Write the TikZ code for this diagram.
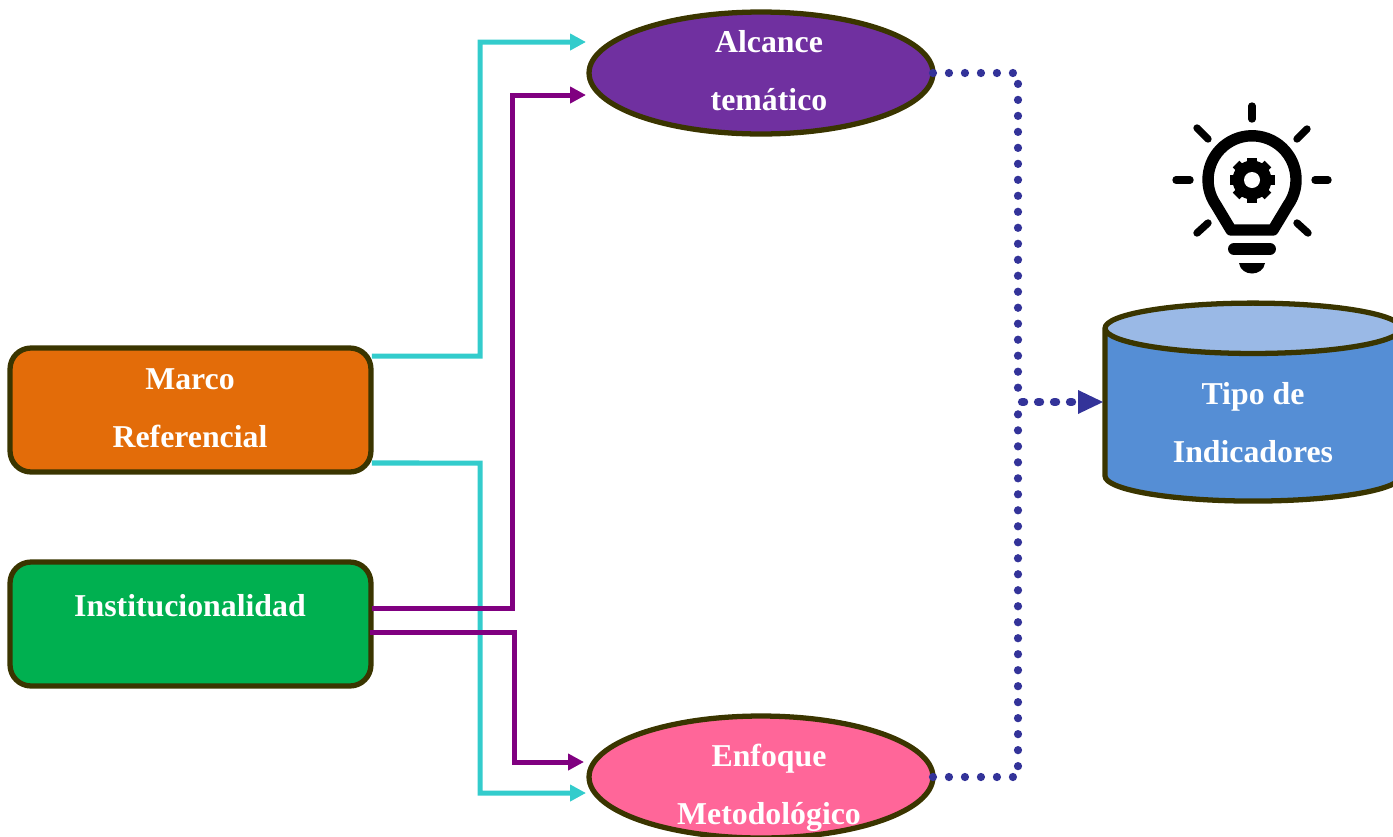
\documentclass[tikz,border=0pt]{standalone}
\usepackage{fontspec}
\setmainfont{Liberation Serif}
\usetikzlibrary{shapes.geometric}
\usetikzlibrary{arrows.meta}
\usetikzlibrary{calc}
\definecolor{edgeolive}{HTML}{3A3500}
\definecolor{marcoorange}{HTML}{E36C09}
\definecolor{instgreen}{HTML}{00B050}
\definecolor{alcancepurple}{HTML}{7030A0}
\definecolor{enfoquepink}{HTML}{FF6699}
\definecolor{tipoblue}{HTML}{558ED5}
\definecolor{tipotop}{HTML}{9AB9E6}
\definecolor{linkteal}{HTML}{33CCCC}
\definecolor{linkpurple}{HTML}{800080}
\definecolor{linkdots}{HTML}{333399}
\tikzset{x=0.02cm, y=-0.02cm,
txt/.style={ % White bold labels
text=white,
align=center,
font=\fontsize{18.1}{33}\selectfont\bfseries},
box/.style={
draw=edgeolive,
line width=3pt,
rounded corners=0.42cm,
outer sep=0pt,
minimum width=7.22cm,
minimum height=2.48cm},
oval/.style={
ellipse,
draw=edgeolive,
line width=3pt,
outer sep=0pt,
minimum width=6.88cm,
minimum height=2.44cm},
drum/.style={
cylinder,
shape border rotate=90,
draw=edgeolive,
line width=3pt,
outer sep=0pt,
cylinder uses custom fill,
cylinder body fill=tipoblue,
cylinder end fill=tipotop,
aspect=4.3,
minimum width=5.92cm,
minimum height=3.96cm},
tealline/.style={
draw=linkteal,
line width=2.85pt,
-{Triangle[length=9pt,width=9pt]}},
purpleline/.style={
draw=linkpurple,
line width=2.85pt,
-{Triangle[length=9pt,width=9pt]}},
dotline/.style={
draw=linkdots,
line width=4.7pt,
line cap=round,
dash pattern=on 0pt off 9.1pt},
ray/.style={
line width=4.2pt,
line cap=round}}

\begin{document}
\begin{tikzpicture}
\useasboundingbox (0,0) rectangle (1393,836);
% boxes
\node[box, fill=marcoorange] (marco) at (190.5,410) {};
\node[txt] (marcotxt) at (190,408) {Marco\\Referencial};
\node[box, fill=instgreen] (inst) at (190.5,624) {};
\node[txt] (insttxt) at (190,606) {Institucionalidad};
% ovals, their text sits off centre
\node[oval, fill=alcancepurple] (alcance) at (761,73) {};
\node[txt] (alcancetxt) at (769,71) {Alcance\\temático};
\node[oval, fill=enfoquepink] (enfoque) at (761,777) {};
\node[txt] (enfoquetxt) at (769,788) {Enfoque\\Metodológico};
% cylinder
\node[drum] (tipo) at (1253,419.5) {};
\node[txt] (tipotxt) at (1253,423) {Tipo de\\Indicadores};
% free ends
\coordinate (alcanceA) at (586,42);
\coordinate (alcanceB) at (586,95);
\coordinate (enfoqueA) at (584,762);
\coordinate (enfoqueB) at (586,793);
\coordinate (cruce) at (1018,402);
% links
\draw[tealline] ($(marco.north east)+(1,8)$) -- (480,356) |- (alcanceA);
\draw[tealline] ($(marco.south east)+(1,-9)$) -- (480,463) |- (enfoqueB);
\draw[purpleline] ($(inst.east)+(1,-16)$) -- (512,608) |- (alcanceB);
\draw[purpleline] ($(inst.east)+(-1,8)$) -- (514,632) |- (enfoqueA);
\draw[dotline] (alcance.east) -| (cruce);
\draw[dotline] (enfoque.east) -| (cruce);
\draw[dotline, dash pattern=on 1.2pt off 7.9pt] ($(cruce)+(4,0)$) -- ($(tipo.west |- cruce)+(-26,0)$);
\draw[draw=none, fill=linkdots] (tipo.west |- cruce) ++(-2,0) -- ++(-25,-12) -- ++(0,24) -- cycle;
% bulb
\begin{scope}[shift={(1252,180)}]
\draw[line width=6.5pt, line join=round] (-21,50) -- (-36,25) arc[start angle=215, end angle=-35, radius=0.88cm] -- (21,50) -- cycle;
\foreach \a in {0,45,...,315}
  \draw[line width=5.4pt] (\a:14) -- (\a:22.5);
\fill (0,0) circle[radius=0.39cm];
\fill[white] (0,0) circle[radius=0.16cm];
\draw[ray] (0,-74) -- (0,-61);
\draw[ray] (-55,-52) -- (-44,-41);
\draw[ray] (55,-51) -- (45,-41);
\draw[ray] (-44,43) -- (-55,53);
\draw[ray] (45,43) -- (56,53);
\draw[ray] (-76,0) -- (-62,0);
\draw[ray] (63,0) -- (76,0);
\draw[line width=6.8pt, line cap=round] (-18,69) -- (18,69);
\fill (-13,83) -- (13,83) .. controls (11,97) and (-11,97) .. (-13,83) -- cycle;
\end{scope}
\end{tikzpicture}
\end{document}
